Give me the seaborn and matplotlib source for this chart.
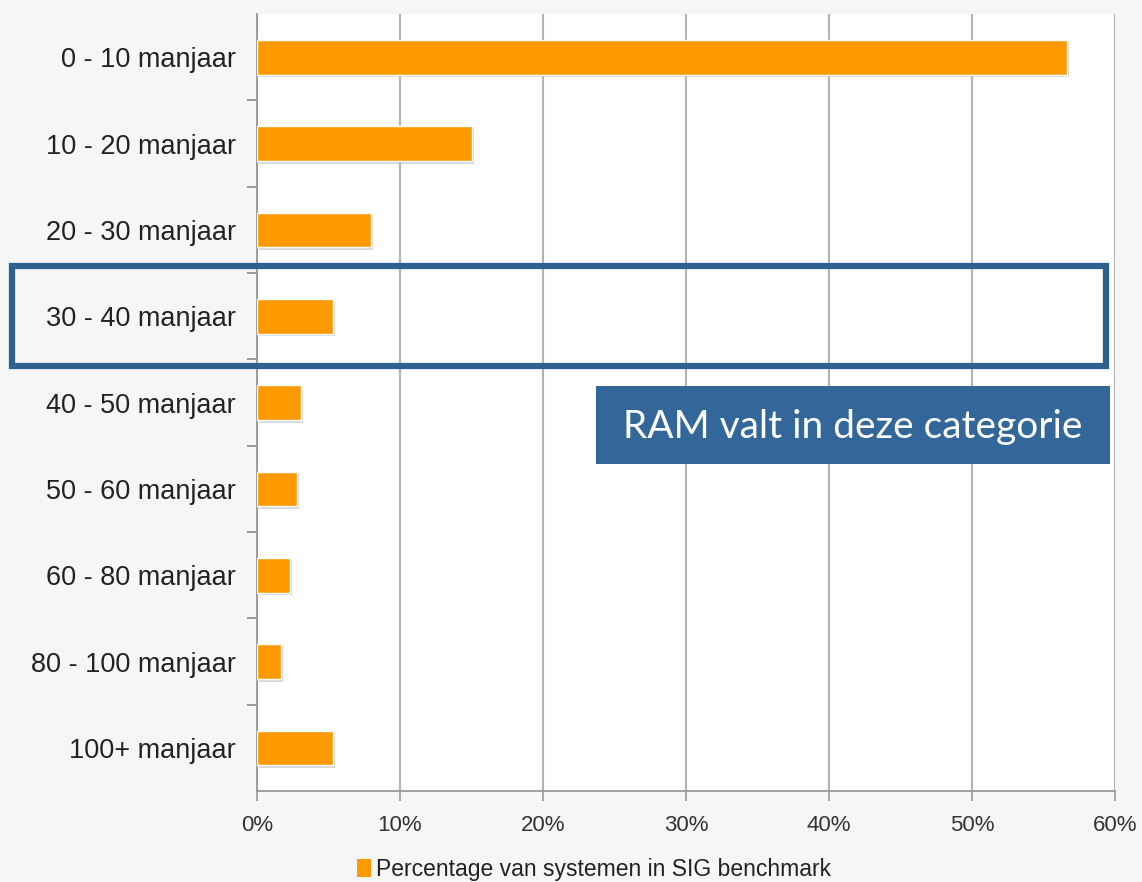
import matplotlib
matplotlib.use('Agg')
import matplotlib.pyplot as plt
import matplotlib.patheffects as pe
from matplotlib.patches import Rectangle, Patch
from matplotlib.ticker import PercentFormatter, FixedLocator
import seaborn as sns
import pandas as pd

categories = ['0 - 10 manjaar', '10 - 20 manjaar', '20 - 30 manjaar', '30 - 40 manjaar',
              '40 - 50 manjaar', '50 - 60 manjaar', '60 - 80 manjaar', '80 - 100 manjaar',
              '100+ manjaar']
percentages = [56.6, 15.0, 8.0, 5.3, 3.1, 2.8, 2.3, 1.7, 5.3]
x_ticks = [0, 10, 20, 30, 40, 50, 60]
legend_label = 'Percentage van systemen in SIG benchmark'
callout_text = 'RAM valt in deze categorie'

orange = '#ff9900'
blue = '#336699'
grey = '#b3b3b3'

sns.set_style('white')
plt.rcParams['font.family'] = ['Liberation Sans', 'DejaVu Sans']

df = pd.DataFrame({'cat': categories, 'pct': percentages})

fig = plt.figure(figsize=(11.42, 8.82), dpi=100)
fig.patch.set_facecolor('#f6f6f6')
ax = fig.add_axes([0.225, 0.103, 0.7515, 0.881])
ax.set_facecolor('white')

sns.barplot(data=df, y='cat', x='pct', color=orange, width=0.4, saturation=1,
            orient='h', ax=ax, zorder=3)
for bar in ax.patches:
    bar.set_path_effects([pe.SimplePatchShadow(offset=(1.5, -2), shadow_rgbFace='#aaaaaa', alpha=0.45),
                          pe.Normal()])

ax.set_xlim(0, 60)
ax.set_ylim(len(categories) - 0.5, -0.5)
ax.xaxis.set_major_locator(FixedLocator(x_ticks))
ax.xaxis.set_major_formatter(PercentFormatter(decimals=0))
ax.grid(axis='x', color=grey, linewidth=1.5, zorder=0)
ax.set_axisbelow(True)

# y ticks sit on the category boundaries, labels in between
ax.set_yticks([i + 0.5 for i in range(len(categories) - 1)], minor=True)
ax.tick_params(axis='y', which='major', left=False, length=0, labelsize=19.5, pad=15,
               colors='#222222')
ax.tick_params(axis='y', which='minor', left=True, length=7, width=1.2, color='#888888',
               direction='out')
ax.tick_params(axis='x', which='major', bottom=True, length=7, width=1.2, color='#999999',
               labelsize=16, pad=10, labelcolor='#333333', direction='out')
ax.set_xlabel('')
ax.set_ylabel('')

for side in ['top', 'right']:
    ax.spines[side].set_visible(False)
for side in ['left', 'bottom']:
    ax.spines[side].set_color('#999999')
    ax.spines[side].set_linewidth(1.3)

# highlight around "30 - 40 manjaar"
fig.patches.append(Rectangle((12 / 1142, 1 - 366 / 882), (1106 - 12) / 1142, (366 - 266) / 882,
                             transform=fig.transFigure, fill=False, edgecolor='#2e6190',
                             linewidth=4.5, zorder=10))

# callout box
fig.patches.append(Rectangle((596 / 1142, 1 - 464 / 882), (1110 - 596) / 1142, (464 - 386) / 882,
                             transform=fig.transFigure, facecolor=blue, edgecolor='none', zorder=10))
fig.text((596 + 1110) / 2 / 1142, 1 - 427 / 882, callout_text, color='white',
         fontsize=28, family=['Lato', 'DejaVu Sans'], ha='center', va='center', zorder=11)

fig.legend(handles=[Patch(facecolor=orange, edgecolor='none', label=legend_label)],
           loc='center', bbox_to_anchor=(0.52, 0.014), frameon=False, fontsize=16.5,
           handlelength=0.6, handleheight=0.8, handletextpad=0.2, labelcolor='#222222')

fig.savefig('out.png', dpi=100, facecolor=fig.get_facecolor())
